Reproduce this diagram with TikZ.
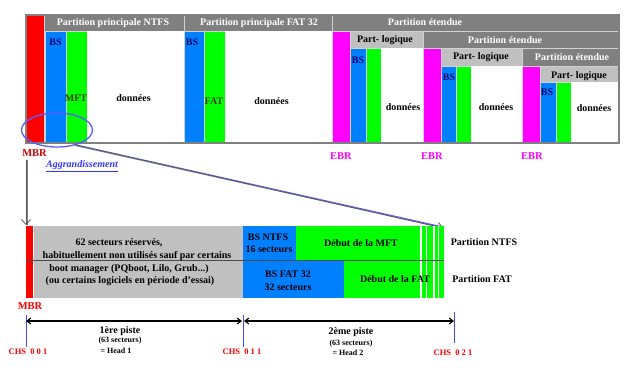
\documentclass[tikz,border=0pt]{standalone}
\usepackage{fontspec}
\setmainfont{Liberation Serif}
\usetikzlibrary{arrows.meta,shapes.geometric}
\definecolor{cred}{RGB}{255,0,0}
\definecolor{cblue}{RGB}{0,128,255}
\definecolor{cgreen}{RGB}{0,255,0}
\definecolor{cmag}{RGB}{255,0,255}
\definecolor{dgray}{RGB}{128,128,128}
\definecolor{lgray}{RGB}{192,192,192}
\definecolor{cgap}{RGB}{210,210,210}
\definecolor{olivetxt}{RGB}{64,64,0}
\definecolor{navytxt}{RGB}{0,0,110}
\definecolor{lblue}{RGB}{90,90,255}
\definecolor{tickblue}{RGB}{70,70,255}
\begin{document}
\begin{tikzpicture}[x=1pt,y=-1pt,
  lbl/.style={font=\fontsize{10}{11}\selectfont\bfseries, inner sep=0pt},
  small/.style={font=\fontsize{8}{9}\selectfont\bfseries, inner sep=0pt},
  hdr/.style={lbl, text=white},
  chs/.style={font=\fontsize{8.5}{9}\selectfont\bfseries, inner sep=0pt, text=cred},
  bstxt/.style={lbl, text=navytxt},
  fstxt/.style={lbl, text=olivetxt},
  ebrtxt/.style={font=\fontsize{10.5}{11}\selectfont\bfseries, inner sep=0pt, text=cmag},
  zoomline/.style={line width=1pt, lblue},
  shadowline/.style={line width=1pt, dgray},
  tip/.style={-{Straight Barb[length=5pt,width=9pt,line width=0.8pt]}},
  dim/.style={line width=1.1pt, {Straight Barb[length=4pt,width=6pt]}-{Straight Barb[length=4pt,width=6pt]}},
  tick/.style={tickblue, line width=0.9pt}
]
\useasboundingbox (0,0) rectangle (640,370);
\fill[white] (0,0) rectangle (640,370);

% ---------- top overview ----------
\fill[cgap] (26,15) rectangle (619,143);
\fill[white] (87,31) rectangle (184,143);
\fill[white] (225,31) rectangle (332,143);
\fill[white] (381,48) rectangle (423,143);
\fill[white] (471,66) rectangle (522,143);
\fill[white] (571,82) rectangle (619,143);
\fill[cred] (26,15) rectangle (44,143);
\fill[dgray] (44.8,15) rectangle (184,31);
\fill[dgray] (185,15) rectangle (332,31);
\fill[dgray] (333,15) rectangle (619,31);
% NTFS
\fill[cblue] (45.5,31.8) rectangle (65.5,143);
\fill[cgreen] (66.5,31.8) rectangle (87,143);
% FAT 32
\fill[cblue] (185,31.8) rectangle (204,143);
\fill[cgreen] (205,31.8) rectangle (225,143);
% extended 1
\fill[cmag] (333,31.8) rectangle (350,143);
\fill[lgray] (351,31.8) rectangle (423,48);
\fill[cblue] (351,48.8) rectangle (366,143);
\fill[cgreen] (367,48.8) rectangle (381,143);
% extended 2
\fill[dgray] (424,31.8) rectangle (619,48);
\fill[cmag] (424,48.8) rectangle (441,143);
\fill[lgray] (442,48.8) rectangle (522,66);
\fill[cblue] (442,66.8) rectangle (456,143);
\fill[cgreen] (457,66.8) rectangle (471,143);
% extended 3
\fill[dgray] (523,48.8) rectangle (619,66);
\fill[cmag] (523,66.8) rectangle (540,143);
\fill[lgray] (541,66.8) rectangle (619,82);
\fill[cblue] (541,82.8) rectangle (556,143);
\fill[cgreen] (557,82.8) rectangle (571,143);
\draw[dgray, line width=1.2pt] (26,15) rectangle (619,143);

\node[hdr] (h1) at (113,23) {Partition principale NTFS};
\node[hdr] (h2) at (259,23) {Partition principale FAT 32};
\node[hdr] (h3) at (425,22) {Partition étendue};
\node[hdr] (h4) at (505,40) {Partition étendue};
\node[hdr] (h5) at (572,57) {Partition étendue};
\node[lbl] (p1) at (385,40) {Part- logique};
\node[lbl] (p2) at (481,57) {Part- logique};
\node[lbl] (p3) at (579,76) {Part- logique};

\node[bstxt] (bs1) at (55.5,42) {BS};
\node[bstxt] (bs2) at (192,42) {BS};
\node[bstxt] (bs3) at (358,60) {BS};
\node[bstxt] (bs4) at (449,77) {BS};
\node[bstxt] (bs5) at (547,92) {BS};
\node[fstxt] (mft) at (76,98) {MFT};
\node[fstxt] (fat) at (214,101) {FAT};

\node[lbl] (d1) at (133.5,98) {données};
\node[lbl] (d2) at (271.5,101) {données};
\node[lbl] (d3) at (403,107) {données};
\node[lbl] (d4) at (496,107) {données};
\node[lbl] (d5) at (594,108) {données};

\node[ebrtxt] (ebr1) at (341,156) {EBR};
\node[ebrtxt] (ebr2) at (432,156) {EBR};
\node[ebrtxt] (ebr3) at (532,156) {EBR};
\node[ebrtxt, text=cred!80!black] (mbr1) at (34.5,153) {MBR};
\node[font=\fontsize{10}{11}\selectfont\bfseries\itshape, inner sep=0pt, text=blue!80!white] (agr) at (82,166) {\underline{Aggrandissement}};

\node[ellipse, draw=lblue, line width=1.3pt, minimum width=71pt, minimum height=34pt, inner sep=0pt] (zoom) at (57,130) {};

% connectors
\coordinate (vtop) at (26,160);
\coordinate (vbot) at (26,225);
\coordinate (stripend) at (443,228);
\draw[shadowline] ([xshift=1pt]zoom.-42) -- ([xshift=1pt]stripend);
\draw[zoomline] ([yshift=1pt]zoom.-42) -- ([yshift=1pt]stripend);
\draw[dgray!70!black, line width=0.7pt, tip] ([yshift=1pt]zoom.-42) -- (stripend);
\draw[shadowline] ([xshift=1pt]vtop) -- ([xshift=1pt]vbot);
\draw[zoomline] (vtop) -- (vbot);
\draw[dgray!70!black, line width=0.6pt, tip] (vtop) -- (vbot);

% ---------- bottom detail ----------
\fill[cred] (26,226) rectangle (33,298);
\fill[lgray] (34,226) rectangle (243,298);
\fill[cblue] (243,226) rectangle (296,260);
\fill[cgreen] (296,226) rectangle (444,260);
\fill[cblue] (243,260) rectangle (344,298);
\fill[cgreen] (344,260) rectangle (444,298);
\foreach \x in {420.3,426,433.3,437.7} \fill[white] (\x,226) rectangle (\x+1.4,298);
\draw[black!70, line width=0.8pt] (26,260) -- (444,260);

\node[lbl] (r1) at (119,243) {62 secteurs réservés,};
\node[lbl] (r2) at (137,256) {habituellement non utilisés sauf par certains};
\node[lbl] (r3) at (129,269) {boot manager (PQboot, Lilo, Grub...)};
\node[lbl] (r4) at (130,281) {(ou certains logiciels en période d'essai)};
\node[lbl] (bsn1) at (268,237) {BS NTFS};
\node[lbl] (bsn2) at (269,249) {16 secteurs};
\node[lbl] (bsf1) at (288,274) {BS FAT 32};
\node[lbl] (bsf2) at (288,287) {32 secteurs};
\node[lbl] (dmft) at (361,243) {Début de la MFT};
\node[lbl] (dfat) at (395,279) {Début de la FAT};
\node[lbl] (pn) at (484,242) {Partition NTFS};
\node[lbl] (pf) at (482,279) {Partition FAT};
\node[ebrtxt, text=cred] (mbr2) at (30,306) {MBR};

% ticks and track dimensions
\coordinate (t0a) at (26,315); \coordinate (t0b) at (26,347);
\coordinate (t1a) at (243,315); \coordinate (t1b) at (243,347);
\coordinate (t2a) at (454,312); \coordinate (t2b) at (454,343);
\draw[tick] (t0a) -- (t0b);
\draw[tick] (t1a) -- (t1b);
\draw[tick] (t2a) -- (t2b);
\coordinate (a0) at (26,321);
\coordinate (a1) at (242,321);
\coordinate (a1b) at (244,321);
\coordinate (a2) at (454,321);
\draw[dim] (a0) -- (a1);
\draw[dim] (a1b) -- (a2);

\node[lbl] (tr1) at (120,331) {1ère piste};
\node[small] (tr1b) at (120,341) {(63 secteurs)};
\node[small] (tr1c) at (116,351) {= Head 1};
\node[lbl] (tr2) at (351,332) {2ème piste};
\node[small] (tr2b) at (351,344) {(63 secteurs)};
\node[small] (tr2c) at (348,353) {= Head 2};
\node[chs] (c1) at (28,352) {CHS\ \ 0 0 1};
\node[chs] (c2) at (242,352) {CHS\ \ 0 1 1};
\node[chs] (c3) at (453,353) {CHS\ \ 0 2 1};
\end{tikzpicture}
\end{document}
